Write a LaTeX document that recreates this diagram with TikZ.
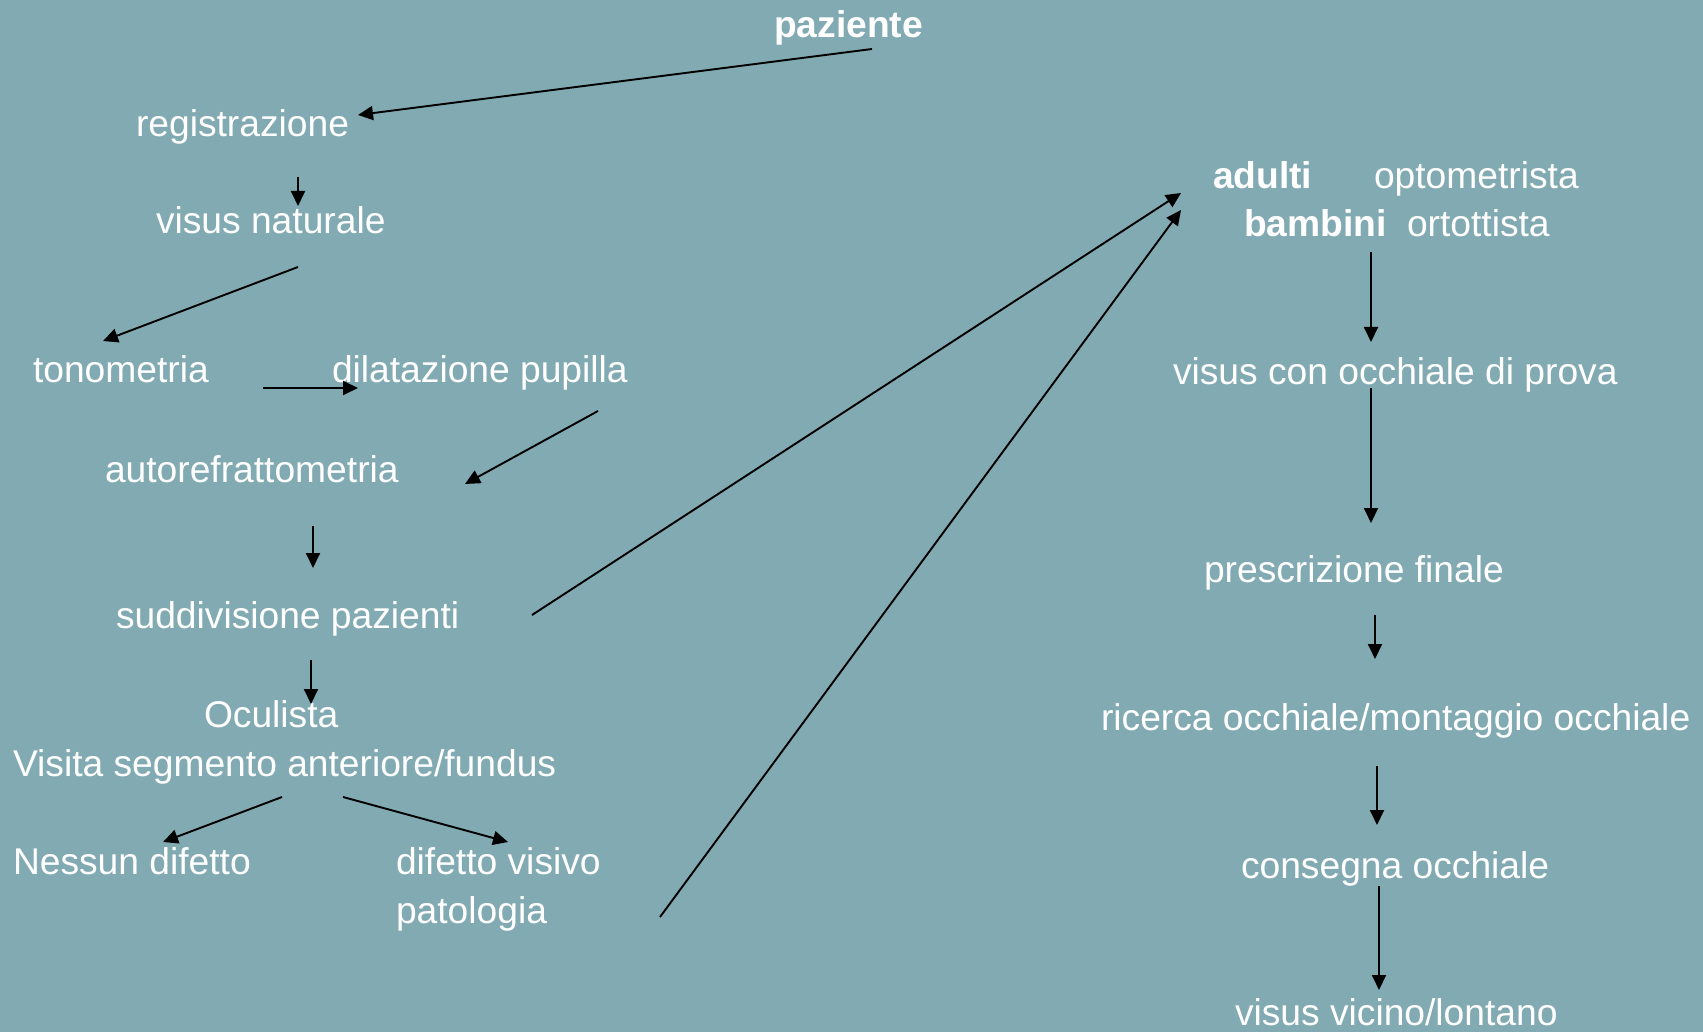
\documentclass[tikz,border=0pt]{standalone}
\usepackage{fontspec}
\setmainfont{Liberation Sans}
\usetikzlibrary{arrows.meta}
\definecolor{bgteal}{RGB}{130,170,178}
\tikzset{
  lbl/.style={anchor=base west, inner sep=0pt, outer sep=0pt, text=white,
    font=\fontsize{37.2}{44}\selectfont},
  blbl/.style={lbl, font=\fontsize{37.2}{44}\selectfont\bfseries},
  conn/.style={draw=black, line width=1.9pt, -{Triangle[length=15pt,width=14pt]}}
}
\begin{document}
\begin{tikzpicture}[x=1pt,y=-1pt]
\fill[bgteal] (0,0) rectangle (1703,1032);
\useasboundingbox (0,0) rectangle (1703,1032);
% nodes
\node[blbl] (paz) at (774,38) {paziente};
\node[lbl] (reg) at (136,137) {registrazione};
\node[lbl] (visn) at (156,234) {visus naturale};
\node[lbl] (tono) at (33,382) {tonometria};
\node[lbl] (dila) at (332,382) {dilatazione pupilla};
\node[lbl] (auto) at (105,482) {autorefrattometria};
\node[lbl] (sudd) at (116,628) {suddivisione pazienti};
\node[lbl] (ocu) at (204,727) {Oculista};
\node[lbl] (visita) at (13,776) {Visita segmento anteriore/fundus};
\node[lbl] (ness) at (13,874) {Nessun difetto};
\node[lbl] (dif) at (396,874) {difetto visivo};
\node[lbl] (pato) at (396,923) {patologia};
\node[blbl] (adu) at (1213,189) {adulti};
\node[lbl] (opto) at (1374,189) {optometrista};
\node[blbl] (bamb) at (1244,237) {bambini};
\node[lbl] (orto) at (1407,237) {ortottista};
\node[lbl] (viscon) at (1173,384) {visus con occhiale di prova};
\node[lbl] (presc) at (1204,582) {prescrizione finale};
\node[lbl] (ric) at (1101,730) {ricerca occhiale/montaggio occhiale};
\node[lbl] (cons) at (1241,878) {consegna occhiale};
\node[lbl] (visvl) at (1235,1025) {visus vicino/lontano};
% connector end points
\coordinate (pazS) at (872,49);   \coordinate (regE) at (358,115);
\coordinate (regS) at (298,177);  \coordinate (visnN) at (298,206);
\coordinate (visnS) at (298,267); \coordinate (tonoN) at (103,341);
\coordinate (tonoE) at (263,388); \coordinate (dilaW) at (358,388);
\coordinate (dilaS) at (598,411); \coordinate (autoE) at (465,484);
\coordinate (autoS) at (313,526); \coordinate (suddN) at (313,568);
\coordinate (suddS) at (311,660); \coordinate (ocuN) at (311,704);
\coordinate (visitaSL) at (282,797); \coordinate (nessN) at (163,842);
\coordinate (visitaSR) at (343,797); \coordinate (difN) at (508,842);
\coordinate (suddE) at (532,615); \coordinate (aduA) at (1181,193);
\coordinate (patoE) at (660,917); \coordinate (aduB) at (1181,210);
\coordinate (bambS) at (1371,252); \coordinate (visconN) at (1371,342);
\coordinate (visconS) at (1371,388); \coordinate (prescN) at (1371,523);
\coordinate (prescS) at (1375,615); \coordinate (ricN) at (1375,659);
\coordinate (ricS) at (1377,766); \coordinate (consN) at (1377,825);
\coordinate (consS) at (1379,886); \coordinate (visvlN) at (1379,990);
% connectors
\draw[conn] (pazS) -- (regE);
\draw[conn] (regS) -- (visnN);
\draw[conn] (visnS) -- (tonoN);
\draw[conn] (tonoE) -- (dilaW);
\draw[conn] (dilaS) -- (autoE);
\draw[conn] (autoS) -- (suddN);
\draw[conn] (suddS) -- (ocuN);
\draw[conn] (visitaSL) -- (nessN);
\draw[conn] (visitaSR) -- (difN);
\draw[conn] (suddE) -- (aduA);
\draw[conn] (patoE) -- (aduB);
\draw[conn] (bambS) -- (visconN);
\draw[conn] (visconS) -- (prescN);
\draw[conn] (prescS) -- (ricN);
\draw[conn] (ricS) -- (consN);
\draw[conn] (consS) -- (visvlN);
\end{tikzpicture}
\end{document}
